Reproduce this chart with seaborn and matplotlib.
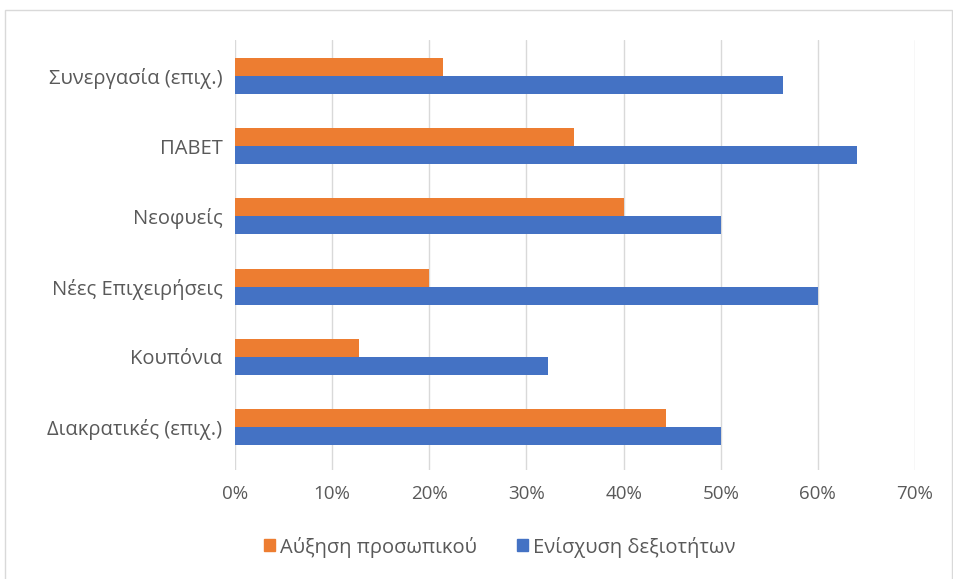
import numpy as np
import pandas as pd
import matplotlib
matplotlib.use("Agg")
import matplotlib.pyplot as plt
import seaborn as sns
from matplotlib.patches import Rectangle
from matplotlib.ticker import PercentFormatter

sns.set_style("white")
plt.rcParams['font.family'] = ['Open Sans', 'DejaVu Sans']

# data (percent)
categories = ["Συνεργασία (επιχ.)", "ΠΑΒΕΤ", "Νεοφυείς", "Νέες Επιχειρήσεις",
              "Κουπόνια", "Διακρατικές (επιχ.)"]
staff_growth = [21.4, 34.9, 40.0, 20.0, 12.8, 44.4]
skills_boost = [56.4, 64.0, 50.0, 60.0, 32.2, 50.0]
series_names = ["Αύξηση προσωπικού", "Ενίσχυση δεξιοτήτων"]
colors = ["#ED7D31", "#4472C4"]
xticks = [0, 10, 20, 30, 40, 50, 60, 70]

df = pd.DataFrame({
    "cat": categories * 2,
    "val": staff_growth + skills_boost,
    "series": [series_names[0]] * len(categories) + [series_names[1]] * len(categories),
})

fig = plt.figure(figsize=(9.54, 5.79), dpi=100)
ax = fig.add_axes([235/954, 1 - 470/579, (915 - 235)/954, (470 - 40)/579])

sns.barplot(data=df, y="cat", x="val", hue="series", hue_order=series_names,
            palette=colors, orient="h", width=0.513, gap=0, saturation=1,
            errorbar=None, ax=ax, zorder=3, linewidth=0)

ax.set_xlim(0, 70)
ax.set_ylim(5.61, -0.51)
ax.set_xticks(xticks)
ax.xaxis.set_major_formatter(PercentFormatter(decimals=0))
ax.grid(axis="x", color="#d9d9d9", linewidth=1, zorder=0)
ax.grid(axis="y", visible=False)
for s in ax.spines.values():
    s.set_visible(False)
ax.set_xlabel("")
ax.set_ylabel("")
ax.tick_params(axis="both", length=0, labelcolor="#595959")
ax.tick_params(axis="y", pad=9, labelsize=14.5)
ax.tick_params(axis="x", pad=11, labelsize=13.5)

ax.get_legend().remove()
handles = [Rectangle((0, 0), 1, 1, color=c) for c in colors]
fig.legend(handles, series_names, loc="center", bbox_to_anchor=(500/954, 1 - 547/579),
           ncol=2, frameon=False, fontsize=14.5, labelcolor="#595959",
           handlelength=0.55, handleheight=0.55, handletextpad=0.25, columnspacing=2.0)

# light chart border
fig.patches.append(Rectangle((5/954, -0.1), 947/954, 1.1 - 10/579, transform=fig.transFigure,
                             fill=False, edgecolor="#d9d9d9", linewidth=1))

plt.savefig("out.png", dpi=100)
